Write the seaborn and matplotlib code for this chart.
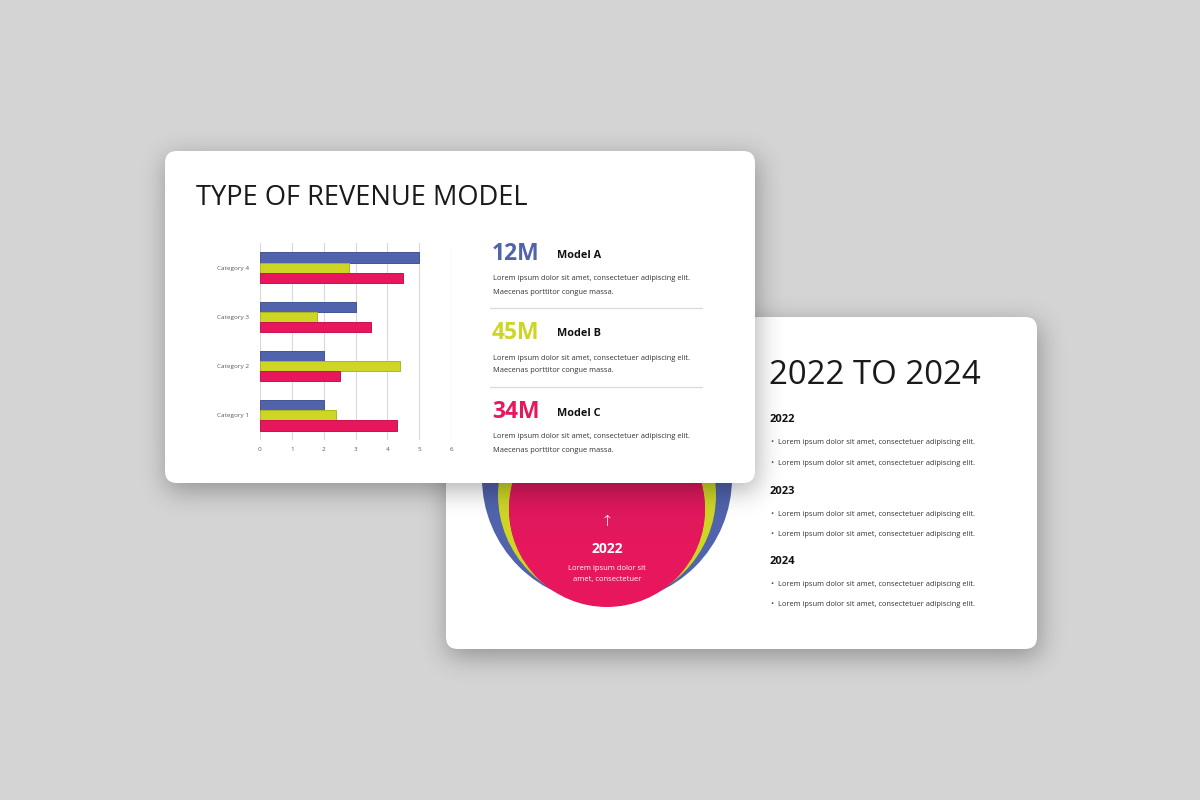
import numpy as np
import pandas as pd
import matplotlib
matplotlib.use("Agg")
import matplotlib.pyplot as plt
import matplotlib.colors as mcolors
from matplotlib.patches import FancyBboxPatch, Circle
import seaborn as sns

# datos del grafico de barras
categories = ["Category 4", "Category 3", "Category 2", "Category 1"]
series_names = ["Series 3", "Series 2", "Series 1"]
series_3 = [5.0, 3.0, 2.0, 2.0]
series_2 = [2.8, 1.8, 4.4, 2.4]
series_1 = [4.5, 3.5, 2.5, 4.3]
x_ticks = [0, 1, 2, 3, 4, 5, 6]

# textos de los modelos
model_values = ["12M", "45M", "34M"]
model_names = ["Model A", "Model B", "Model C"]
years = ["2022", "2023", "2024"]

BLUE = "#5063AC"
LIME = "#CDD625"
PINK = "#E8175D"
palette = [BLUE, LIME, PINK]
LOREM_1 = "Lorem ipsum dolor sit amet, consectetuer adipiscing elit."
LOREM_2 = "Maecenas porttitor congue massa."

W, H = 1200, 800

sns.set_theme(style="white")
plt.rcParams["font.family"] = ["Open Sans", "DejaVu Sans"]

fig = plt.figure(figsize=(12, 8), dpi=100)
fig.patch.set_facecolor("#D4D4D4")

# eje de fondo en coordenadas de pixel
bg = fig.add_axes([0, 0, 1, 1])
bg.axis("off")
bg.set_facecolor("none")


def gauss_matrix(n, sigma):
    idx = np.arange(n)
    k = np.exp(-0.5 * ((idx[:, None] - idx[None, :]) / sigma) ** 2)
    return k / k.sum(axis=1, keepdims=True)


KY = gauss_matrix(H, 13)
KX = gauss_matrix(W, 13)


def shadow(x, y, w, h, dx=2, dy=7, alpha=0.32, z=1):
    # sombra suave: rectangulo difuminado con gaussiana
    yy, xx = np.mgrid[0:H, 0:W] + 0.5
    mask = ((xx > x + dx) & (xx < x + w + dx) & (yy > y + dy) & (yy < y + h + dy)).astype(float)
    blur = KY @ mask @ KX.T
    rgba = np.zeros((H, W, 4))
    rgba[..., 3] = blur * alpha
    bg.imshow(rgba, extent=(0, W, H, 0), zorder=z, interpolation="bilinear")


def card(x, y, w, h, r=12, z=2):
    bg.add_patch(FancyBboxPatch((x, y), w, h, boxstyle=f"round,pad=0,rounding_size={r}",
                                fc="white", ec="none", zorder=z))


# tarjeta de atras
shadow(446, 317, 591, 332, z=1)
card(446, 317, 591, 332, z=2)

# circulos
bg.add_patch(Circle((607, 478), 125, fc=BLUE, ec="none", zorder=3))
bg.add_patch(Circle((607, 495), 109, fc=LIME, ec="none", zorder=3.1))
pink = Circle((607, 509), 98, fc=PINK, ec="none", zorder=3.2)
bg.add_patch(pink)
grad = np.linspace(0, 1, 200).reshape(-1, 1)
cmap = mcolors.LinearSegmentedColormap.from_list("pk", ["#D91A5E", PINK])
im = bg.imshow(grad, extent=(509, 705, 560, 470), cmap=cmap, aspect="auto", zorder=3.3)
im.set_clip_path(pink)

bg.text(607, 522, "↑", color="white", fontsize=11, ha="center", va="center", zorder=4,
        family=["DejaVu Sans"], fontweight="light")
bg.text(607, 549, "2022", color="white", fontsize=10, fontweight="bold", ha="center",
        va="center", zorder=4)
bg.text(607, 568, "Lorem ipsum dolor sit", color="white", fontsize=5.5, ha="center",
        va="center", zorder=4)
bg.text(607, 580, "amet, consectetuer", color="white", fontsize=5.5, ha="center",
        va="center", zorder=4)

# textos de la tarjeta de atras
bg.text(769, 376, "2022 TO 2024", color="#1A1A1A", fontsize=23.8, ha="left", va="center", zorder=4)
year_y = [420, 491, 561]
for yr, yy in zip(years, year_y):
    bg.text(770, yy, yr, color="#111111", fontsize=8, fontweight="bold", ha="left",
            va="center", zorder=4)
    for k in range(2):
        by = yy + 23 + k * 20.5
        bg.text(770, by, "•", color="#2F3B7A", fontsize=6, ha="left", va="center", zorder=4)
        bg.text(778, by, LOREM_1, color="#333333", fontsize=5.4, ha="left", va="center", zorder=4)

# tarjeta de adelante
shadow(165, 151, 590, 332, z=5)
card(165, 151, 590, 332, z=6)

bg.text(196, 198, "TYPE OF REVENUE MODEL", color="#1A1A1A", fontsize=19.6, ha="left",
        va="center", zorder=7)

value_y = [254, 333, 412]
for val, name, col, vy in zip(model_values, model_names, palette, value_y):
    bg.text(492, vy, val, color=col, fontsize=16.5, fontweight="bold", ha="left",
            va="center", zorder=7)
    bg.text(557, vy + 1, name, color="#111111", fontsize=7.8, fontweight="bold", ha="left",
            va="center", zorder=7)
    bg.text(493, vy + 25, LOREM_1, color="#333333", fontsize=5.45, ha="left", va="center", zorder=7)
    bg.text(493, vy + 38, LOREM_2, color="#333333", fontsize=5.45, ha="left", va="center", zorder=7)
for sy in [308, 387]:
    bg.plot([490, 702], [sy, sy], color="#D9D9D9", lw=0.9, zorder=7)

bg.set_xlim(0, W)
bg.set_ylim(H, 0)

# grafico de barras
df = pd.DataFrame({
    "category": categories * 3,
    "series": np.repeat(series_names, len(categories)),
    "value": series_3 + series_2 + series_1,
})

ax = fig.add_axes([260 / W, 1 - 440 / H, (451 - 260) / W, (440 - 243) / H])
ax.set_zorder(10)
ax.set_facecolor("none")
sns.barplot(data=df, y="category", x="value", hue="series", order=categories,
            hue_order=series_names, palette=palette, width=0.62, saturation=1,
            orient="h", ax=ax, legend=False, linewidth=0.7)
for bar in ax.patches:
    r, g, b, _ = bar.get_facecolor()
    bar.set_edgecolor((r * 0.85, g * 0.85, b * 0.85))

ax.set_xlim(0, 6)
ax.set_ylim(3.5, -0.5)
ax.set_xticks(x_ticks)
ax.set_xticklabels([str(t) for t in x_ticks])
ax.xaxis.grid(True, color="#D9D9D9", lw=0.8)
ax.set_axisbelow(True)
for s in ax.spines.values():
    s.set_visible(False)
ax.tick_params(axis="y", length=0, labelsize=4.6, labelcolor="#595959", pad=8)
ax.tick_params(axis="x", length=0, labelsize=4.6, labelcolor="#595959", pad=5)
ax.set_xlabel("")
ax.set_ylabel("")

fig.savefig("out.png", dpi=100, facecolor=fig.get_facecolor())
